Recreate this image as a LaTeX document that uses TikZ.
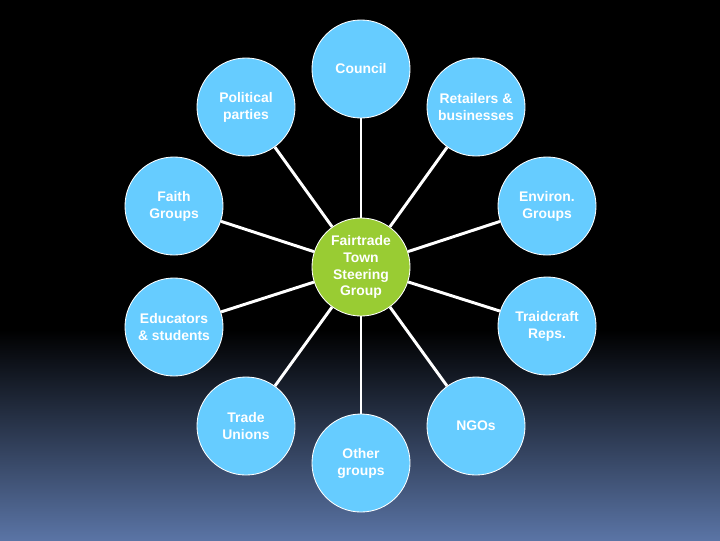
\documentclass[tikz,border=0pt]{standalone}
\usepackage{fontspec}
\setmainfont{Liberation Sans}
\usepackage{xcolor}
\definecolor{partnerblue}{HTML}{66CCFF}
\definecolor{hubgreen}{HTML}{99CC33}
\definecolor{slatebottom}{RGB}{90,116,165}

\begin{document}
\begin{tikzpicture}[
  x=0.025cm,
  y=-0.025cm,
  font=\rmfamily\bfseries\fontsize{9.9}{12}\selectfont,
  partner/.style={
    circle,
    draw=white,
    line width=0.6pt,
    fill=partnerblue,
    text=white,
    align=center,
    inner sep=0pt,
    minimum size=2.45cm
  },
  hub/.style={
    partner,
    fill=hubgreen
  },
  spoke/.style={draw=white,line width=2.1pt}
]
  % Slide background: black fading to slate blue at the bottom.
  \fill[black] (0,0) rectangle (720,540);
  \shade[top color=black,bottom color=slatebottom] (0,330) rectangle (720,540);
  \useasboundingbox (0,0) rectangle (720,540);

  % Central steering group.
  \node[hub] (steering) at (361,267) {Fairtrade\\Town\\Steering\\Group};

  % Partner groups round the hub.
  \node[partner] (council) at (361,69) {Council};
  \node[partner] (political) at (246,107) {Political\\parties};
  \node[partner] (retailers) at (476,107) {Retailers \&\\businesses};
  \node[partner] (faith) at (174,206) {Faith\\Groups};
  \node[partner] (environ) at (547,206) {Environ.\\Groups};
  \node[partner] (educators) at (174,327) {Educators\\\& students};
  \node[partner] (traidcraft) at (547,326) {Traidcraft\\Reps.};
  \node[partner] (unions) at (246,426) {Trade\\Unions};
  \node[partner] (ngos) at (476,426) {NGOs};
  \node[partner] (other) at (361,463) {Other\\groups};

  % Spokes from the hub to every partner.
  \foreach \partnername in {council,political,retailers,faith,environ,educators,traidcraft,unions,ngos,other}
    \draw[spoke] (steering) -- (\partnername);
\end{tikzpicture}
\end{document}
